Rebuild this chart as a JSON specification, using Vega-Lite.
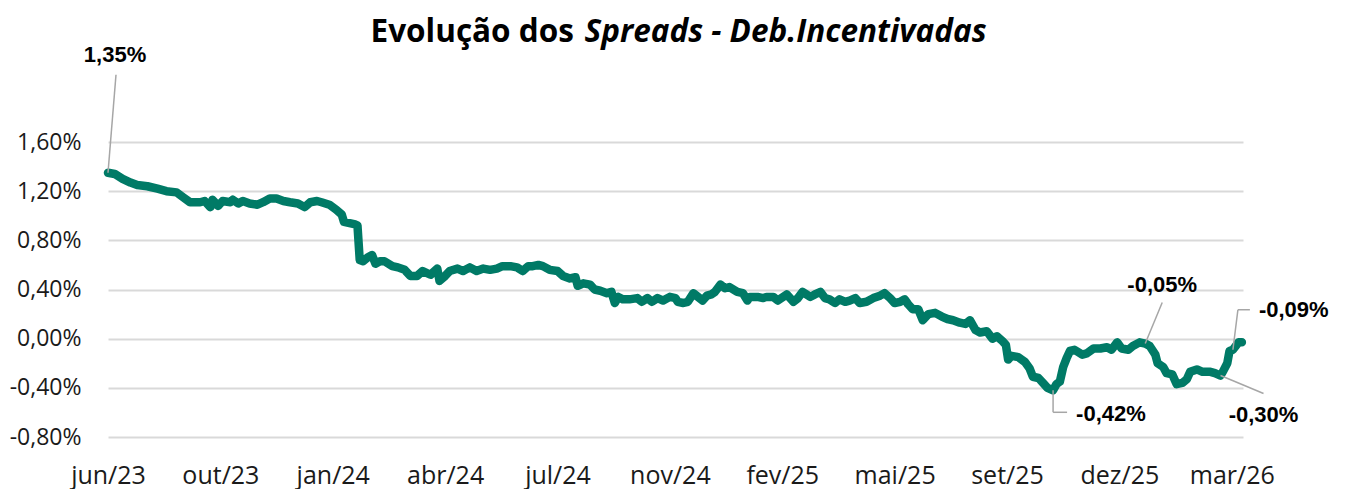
{
  "$schema": "https://vega.github.io/schema/vega-lite/v6.json",
  "autosize": {"type": "none"},
  "padding": {"left": 108, "top": 142, "right": 105, "bottom": 52},
  "width": 1135,
  "height": 295,
  "background": "white",
  "config": {"view": {"stroke": null}},
  "datasets": {
    "spread": [
      {"d": "2023-06-26", "v": 1.35}, {"d": "2023-07-02", "v": 1.34}, {"d": "2023-07-09", "v": 1.30}, {"d": "2023-07-16", "v": 1.27},
      {"d": "2023-07-22", "v": 1.25}, {"d": "2023-07-31", "v": 1.24}, {"d": "2023-08-09", "v": 1.22}, {"d": "2023-08-17", "v": 1.20},
      {"d": "2023-08-26", "v": 1.19}, {"d": "2023-09-01", "v": 1.15}, {"d": "2023-09-07", "v": 1.11}, {"d": "2023-09-16", "v": 1.11},
      {"d": "2023-09-20", "v": 1.12}, {"d": "2023-09-25", "v": 1.07}, {"d": "2023-09-27", "v": 1.13}, {"d": "2023-10-02", "v": 1.08},
      {"d": "2023-10-06", "v": 1.12}, {"d": "2023-10-13", "v": 1.11}, {"d": "2023-10-15", "v": 1.13}, {"d": "2023-10-20", "v": 1.10},
      {"d": "2023-10-24", "v": 1.12}, {"d": "2023-10-30", "v": 1.10}, {"d": "2023-11-06", "v": 1.09}, {"d": "2023-11-11", "v": 1.11},
      {"d": "2023-11-17", "v": 1.14}, {"d": "2023-11-23", "v": 1.14}, {"d": "2023-11-29", "v": 1.12}, {"d": "2023-12-05", "v": 1.11},
      {"d": "2023-12-12", "v": 1.10}, {"d": "2023-12-18", "v": 1.07}, {"d": "2023-12-23", "v": 1.11}, {"d": "2023-12-29", "v": 1.12},
      {"d": "2024-01-02", "v": 1.11}, {"d": "2024-01-09", "v": 1.09}, {"d": "2024-01-15", "v": 1.05}, {"d": "2024-01-20", "v": 1.01},
      {"d": "2024-01-22", "v": 0.95}, {"d": "2024-01-27", "v": 0.94}, {"d": "2024-02-01", "v": 0.93}, {"d": "2024-02-03", "v": 0.92},
      {"d": "2024-02-05", "v": 0.64}, {"d": "2024-02-08", "v": 0.63}, {"d": "2024-02-12", "v": 0.66}, {"d": "2024-02-16", "v": 0.68},
      {"d": "2024-02-19", "v": 0.61}, {"d": "2024-02-23", "v": 0.63}, {"d": "2024-02-27", "v": 0.63}, {"d": "2024-03-05", "v": 0.59},
      {"d": "2024-03-10", "v": 0.58}, {"d": "2024-03-16", "v": 0.56}, {"d": "2024-03-21", "v": 0.51}, {"d": "2024-03-27", "v": 0.51},
      {"d": "2024-04-01", "v": 0.55}, {"d": "2024-04-08", "v": 0.52}, {"d": "2024-04-14", "v": 0.57}, {"d": "2024-04-16", "v": 0.47},
      {"d": "2024-04-21", "v": 0.51}, {"d": "2024-04-25", "v": 0.55}, {"d": "2024-05-02", "v": 0.57}, {"d": "2024-05-07", "v": 0.55},
      {"d": "2024-05-13", "v": 0.58}, {"d": "2024-05-19", "v": 0.55}, {"d": "2024-05-25", "v": 0.57}, {"d": "2024-05-31", "v": 0.56},
      {"d": "2024-06-06", "v": 0.57}, {"d": "2024-06-11", "v": 0.59}, {"d": "2024-06-18", "v": 0.59}, {"d": "2024-06-24", "v": 0.58},
      {"d": "2024-06-29", "v": 0.55}, {"d": "2024-07-04", "v": 0.59}, {"d": "2024-07-08", "v": 0.59}, {"d": "2024-07-13", "v": 0.60},
      {"d": "2024-07-17", "v": 0.59}, {"d": "2024-07-23", "v": 0.56}, {"d": "2024-07-30", "v": 0.55}, {"d": "2024-08-04", "v": 0.51},
      {"d": "2024-08-10", "v": 0.49}, {"d": "2024-08-15", "v": 0.50}, {"d": "2024-08-17", "v": 0.43}, {"d": "2024-08-22", "v": 0.45},
      {"d": "2024-08-28", "v": 0.44}, {"d": "2024-09-01", "v": 0.40}, {"d": "2024-09-06", "v": 0.39}, {"d": "2024-09-12", "v": 0.37},
      {"d": "2024-09-16", "v": 0.38}, {"d": "2024-09-19", "v": 0.29}, {"d": "2024-09-22", "v": 0.34}, {"d": "2024-09-26", "v": 0.32},
      {"d": "2024-10-02", "v": 0.32}, {"d": "2024-10-09", "v": 0.33}, {"d": "2024-10-13", "v": 0.30}, {"d": "2024-10-18", "v": 0.33},
      {"d": "2024-10-22", "v": 0.30}, {"d": "2024-10-27", "v": 0.33}, {"d": "2024-11-01", "v": 0.31}, {"d": "2024-11-07", "v": 0.34},
      {"d": "2024-11-12", "v": 0.33}, {"d": "2024-11-14", "v": 0.30}, {"d": "2024-11-19", "v": 0.29}, {"d": "2024-11-23", "v": 0.30},
      {"d": "2024-11-28", "v": 0.37}, {"d": "2024-12-02", "v": 0.34}, {"d": "2024-12-06", "v": 0.31}, {"d": "2024-12-10", "v": 0.35},
      {"d": "2024-12-14", "v": 0.36}, {"d": "2024-12-17", "v": 0.38}, {"d": "2024-12-22", "v": 0.44}, {"d": "2024-12-26", "v": 0.41},
      {"d": "2024-12-30", "v": 0.42}, {"d": "2025-01-06", "v": 0.38}, {"d": "2025-01-11", "v": 0.37}, {"d": "2025-01-15", "v": 0.31},
      {"d": "2025-01-17", "v": 0.34}, {"d": "2025-01-24", "v": 0.34}, {"d": "2025-01-29", "v": 0.33}, {"d": "2025-02-01", "v": 0.34},
      {"d": "2025-02-07", "v": 0.34}, {"d": "2025-02-11", "v": 0.31}, {"d": "2025-02-19", "v": 0.36}, {"d": "2025-02-25", "v": 0.30},
      {"d": "2025-03-01", "v": 0.33}, {"d": "2025-03-05", "v": 0.38}, {"d": "2025-03-12", "v": 0.34}, {"d": "2025-03-16", "v": 0.36},
      {"d": "2025-03-21", "v": 0.38}, {"d": "2025-03-25", "v": 0.33}, {"d": "2025-03-29", "v": 0.32}, {"d": "2025-04-03", "v": 0.29},
      {"d": "2025-04-07", "v": 0.32}, {"d": "2025-04-12", "v": 0.30}, {"d": "2025-04-16", "v": 0.31}, {"d": "2025-04-21", "v": 0.33},
      {"d": "2025-04-25", "v": 0.29}, {"d": "2025-05-01", "v": 0.30}, {"d": "2025-05-07", "v": 0.33}, {"d": "2025-05-13", "v": 0.35},
      {"d": "2025-05-17", "v": 0.37}, {"d": "2025-05-22", "v": 0.33}, {"d": "2025-05-26", "v": 0.29}, {"d": "2025-05-31", "v": 0.30},
      {"d": "2025-06-04", "v": 0.32}, {"d": "2025-06-07", "v": 0.28}, {"d": "2025-06-11", "v": 0.24}, {"d": "2025-06-16", "v": 0.24},
      {"d": "2025-06-20", "v": 0.15}, {"d": "2025-06-25", "v": 0.20}, {"d": "2025-07-01", "v": 0.21}, {"d": "2025-07-07", "v": 0.18},
      {"d": "2025-07-12", "v": 0.16}, {"d": "2025-07-17", "v": 0.15}, {"d": "2025-07-23", "v": 0.13}, {"d": "2025-07-28", "v": 0.12},
      {"d": "2025-08-01", "v": 0.15}, {"d": "2025-08-06", "v": 0.07}, {"d": "2025-08-10", "v": 0.05}, {"d": "2025-08-16", "v": 0.06},
      {"d": "2025-08-21", "v": 0.00}, {"d": "2025-08-25", "v": 0.02}, {"d": "2025-08-30", "v": -0.02}, {"d": "2025-09-02", "v": -0.05},
      {"d": "2025-09-04", "v": -0.17}, {"d": "2025-09-07", "v": -0.14}, {"d": "2025-09-13", "v": -0.15}, {"d": "2025-09-19", "v": -0.19},
      {"d": "2025-09-23", "v": -0.24}, {"d": "2025-09-26", "v": -0.31}, {"d": "2025-10-01", "v": -0.32}, {"d": "2025-10-05", "v": -0.36},
      {"d": "2025-10-09", "v": -0.40}, {"d": "2025-10-14", "v": -0.42}, {"d": "2025-10-17", "v": -0.37}, {"d": "2025-10-20", "v": -0.35},
      {"d": "2025-10-23", "v": -0.23}, {"d": "2025-10-26", "v": -0.16}, {"d": "2025-10-29", "v": -0.10}, {"d": "2025-11-02", "v": -0.09},
      {"d": "2025-11-09", "v": -0.13}, {"d": "2025-11-13", "v": -0.12}, {"d": "2025-11-19", "v": -0.08}, {"d": "2025-11-25", "v": -0.08},
      {"d": "2025-12-01", "v": -0.07}, {"d": "2025-12-05", "v": -0.09}, {"d": "2025-12-10", "v": -0.03}, {"d": "2025-12-14", "v": -0.08},
      {"d": "2025-12-20", "v": -0.09}, {"d": "2025-12-24", "v": -0.06}, {"d": "2025-12-30", "v": -0.03}, {"d": "2026-01-04", "v": -0.04},
      {"d": "2026-01-08", "v": -0.06}, {"d": "2026-01-13", "v": -0.13}, {"d": "2026-01-15", "v": -0.20}, {"d": "2026-01-20", "v": -0.23},
      {"d": "2026-01-23", "v": -0.28}, {"d": "2026-01-28", "v": -0.29}, {"d": "2026-02-01", "v": -0.37}, {"d": "2026-02-06", "v": -0.36},
      {"d": "2026-02-10", "v": -0.33}, {"d": "2026-02-13", "v": -0.27}, {"d": "2026-02-19", "v": -0.25}, {"d": "2026-02-24", "v": -0.27},
      {"d": "2026-03-03", "v": -0.27}, {"d": "2026-03-07", "v": -0.28}, {"d": "2026-03-12", "v": -0.30}, {"d": "2026-03-14", "v": -0.27},
      {"d": "2026-03-18", "v": -0.20}, {"d": "2026-03-20", "v": -0.10}, {"d": "2026-03-23", "v": -0.09}, {"d": "2026-03-28", "v": -0.03},
      {"d": "2026-03-31", "v": -0.03}
    ],
    "notes": [
      {"d": "2023-06-26", "v": 1.35, "label": "1,35%", "kind": "a"},
      {"d": "2025-10-14", "v": -0.42, "label": "-0,42%", "kind": "b"},
      {"d": "2026-01-04", "v": -0.04, "label": "-0,05%", "kind": "c"},
      {"d": "2026-03-12", "v": -0.30, "label": "-0,30%", "kind": "d"},
      {"d": "2026-03-23", "v": -0.09, "label": "-0,09%", "kind": "e"}
    ]
  },
  "encoding": {
    "x": {
      "field": "d", "type": "temporal",
      "scale": {"type": "utc", "domain": [{"year": 2023, "month": 6, "date": 26, "utc": true}, {"year": 2026, "month": 4, "date": 1, "utc": true}]},
      "axis": {
        "values": [
          {"year": 2023, "month": 6, "date": 26, "utc": true}, {"year": 2023, "month": 10, "date": 4, "utc": true},
          {"year": 2024, "month": 1, "date": 12, "utc": true}, {"year": 2024, "month": 4, "date": 21, "utc": true},
          {"year": 2024, "month": 7, "date": 30, "utc": true}, {"year": 2024, "month": 11, "date": 7, "utc": true},
          {"year": 2025, "month": 2, "date": 15, "utc": true}, {"year": 2025, "month": 5, "date": 26, "utc": true},
          {"year": 2025, "month": 9, "date": 3, "utc": true}, {"year": 2025, "month": 12, "date": 12, "utc": true},
          {"year": 2026, "month": 3, "date": 22, "utc": true}
        ],
        "labelExpr": "['jan','fev','mar','abr','mai','jun','jul','ago','set','out','nov','dez'][utcmonth(datum.value)] + '/' + utcFormat(datum.value, '%y')",
        "domain": false, "ticks": false, "grid": false,
        "labelFont": "Open Sans", "labelFontSize": 25, "labelColor": "#1a1a1a",
        "labelPadding": 26, "labelFlush": false, "labelOverlap": false,
        "title": "Evolução dos ",
        "titleFont": "Open Sans", "titleFontSize": 31.5, "titleFontWeight": "bold", "titleColor": "#000000",
        "titleAlign": "left", "titleBaseline": "alphabetic", "titleAngle": 0,
        "titleX": 262, "titleY": -396
      }
    },
    "y": {
      "field": "v", "type": "quantitative",
      "scale": {"domain": [-0.8, 1.6], "nice": false, "zero": false},
      "axis": {
        "values": [-0.8, -0.4, 0, 0.4, 0.8, 1.2, 1.6],
        "labelExpr": "(datum.value < -0.0001 ? '-' : '') + replace(format(abs(datum.value), '.2f'), '.', ',') + '%'",
        "domain": false, "ticks": false,
        "grid": true, "gridColor": "#d9d9d9", "gridWidth": 2,
        "labelFont": "Open Sans", "labelFontSize": 23, "labelColor": "#1a1a1a", "labelPadding": 27,
        "title": "Spreads - Deb.Incentivadas",
        "titleFont": "Open Sans", "titleFontSize": 31.5, "titleFontWeight": "bold", "titleFontStyle": "italic", "titleColor": "#000000",
        "titleAngle": 0, "titleAlign": "left", "titleBaseline": "alphabetic",
        "titleX": 476, "titleY": -101
      }
    }
  },
  "layer": [
    {
      "data": {"name": "spread"},
      "mark": {"type": "line", "color": "#007A66", "strokeWidth": 8.5, "strokeCap": "round", "strokeJoin": "round"}
    },
    {
      "data": {"name": "notes"},
      "transform": [{"filter": "datum.kind == 'a'"}],
      "layer": [
        {"mark": {"type": "rule", "color": "#a6a6a6", "strokeWidth": 1.5, "x2Offset": 8, "y2Offset": -98},
         "encoding": {"x2": {"field": "d"}, "y2": {"field": "v"}}},
        {"mark": {"type": "text", "font": "Liberation Sans", "fontWeight": "bold", "fontSize": 22, "color": "#000000", "align": "center", "baseline": "middle", "dx": 7, "dy": -118},
         "encoding": {"text": {"field": "label"}}}
      ]
    },
    {
      "data": {"name": "notes"},
      "transform": [{"filter": "datum.kind == 'b'"}],
      "layer": [
        {"mark": {"type": "rule", "color": "#a6a6a6", "strokeWidth": 1.5, "y2Offset": 22},
         "encoding": {"x2": {"field": "d"}, "y2": {"field": "v"}}},
        {"mark": {"type": "rule", "color": "#a6a6a6", "strokeWidth": 1.5, "yOffset": 22, "x2Offset": 14, "y2Offset": 22},
         "encoding": {"x2": {"field": "d"}, "y2": {"field": "v"}}},
        {"mark": {"type": "text", "font": "Liberation Sans", "fontWeight": "bold", "fontSize": 22, "color": "#000000", "align": "left", "baseline": "middle", "dx": 23, "dy": 24},
         "encoding": {"text": {"field": "label"}}}
      ]
    },
    {
      "data": {"name": "notes"},
      "transform": [{"filter": "datum.kind == 'c'"}],
      "layer": [
        {"mark": {"type": "rule", "color": "#a6a6a6", "strokeWidth": 1.5, "x2Offset": 17, "y2Offset": -41},
         "encoding": {"x2": {"field": "d"}, "y2": {"field": "v"}}},
        {"mark": {"type": "text", "font": "Liberation Sans", "fontWeight": "bold", "fontSize": 22, "color": "#000000", "align": "center", "baseline": "middle", "dx": 17, "dy": -59},
         "encoding": {"text": {"field": "label"}}}
      ]
    },
    {
      "data": {"name": "notes"},
      "transform": [{"filter": "datum.kind == 'd'"}],
      "layer": [
        {"mark": {"type": "rule", "color": "#a6a6a6", "strokeWidth": 1.5, "x2Offset": 43, "y2Offset": 18},
         "encoding": {"x2": {"field": "d"}, "y2": {"field": "v"}}},
        {"mark": {"type": "text", "font": "Liberation Sans", "fontWeight": "bold", "fontSize": 22, "color": "#000000", "align": "center", "baseline": "middle", "dx": 43, "dy": 39},
         "encoding": {"text": {"field": "label"}}}
      ]
    },
    {
      "data": {"name": "notes"},
      "transform": [{"filter": "datum.kind == 'e'"}],
      "layer": [
        {"mark": {"type": "rule", "color": "#a6a6a6", "strokeWidth": 1.5, "x2Offset": 5, "y2Offset": -40},
         "encoding": {"x2": {"field": "d"}, "y2": {"field": "v"}}},
        {"mark": {"type": "rule", "color": "#a6a6a6", "strokeWidth": 1.5, "xOffset": 5, "yOffset": -40, "x2Offset": 17, "y2Offset": -40},
         "encoding": {"x2": {"field": "d"}, "y2": {"field": "v"}}},
        {"mark": {"type": "text", "font": "Liberation Sans", "fontWeight": "bold", "fontSize": 22, "color": "#000000", "align": "left", "baseline": "middle", "dx": 26, "dy": -40},
         "encoding": {"text": {"field": "label"}}}
      ]
    }
  ]
}
